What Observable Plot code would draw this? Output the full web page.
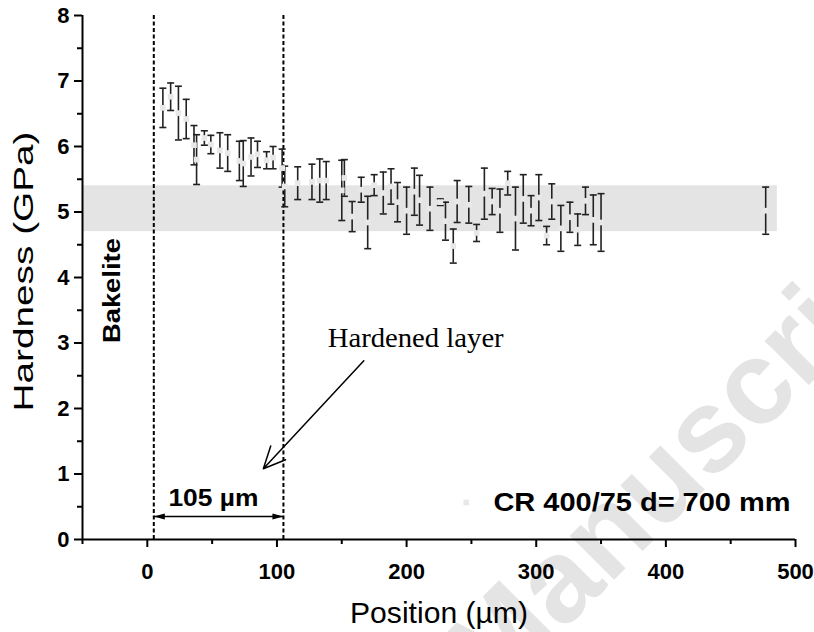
<!DOCTYPE html>
<html>
<head>
<meta charset="utf-8">
<script src="https://cdn.jsdelivr.net/npm/d3@7"></script>
<script src="https://cdn.jsdelivr.net/npm/@observablehq/plot@0.6"></script>
<style>
  body { margin: 0; background: #fff; }
  #chart { width: 814px; height: 632px; }
</style>
</head>
<body>
<div id="chart"></div>
<script>
// ---- data ----
const position = [12, 18, 24, 30, 36, 38, 44, 49, 56, 62, 71, 74, 80, 85, 92, 97, 104, 106,
  116, 127, 133, 138, 150, 152, 158, 165, 170, 175, 182, 188, 193, 200, 206, 210, 218, 226,
  230, 236, 239, 248, 254, 260, 266, 272, 278, 284, 290, 296, 302, 308, 312, 319, 326, 332,
  338, 344, 350, 477];
const hardness = [6.59, 6.76, 6.51, 6.42, 6.02, 5.80, 6.13, 6.03, 5.94, 5.90, 5.78, 5.74, 5.84, 5.88,
  5.79, 5.83, 5.67, 5.39, 5.44, 5.46, 5.48, 5.48, 5.33, 5.52, 4.93, 5.34, 4.84, 5.41, 5.29,
  5.39, 5.15, 5.02, 5.31, 5.18, 5.05, 5.15, 4.86, 4.48, 5.16, 5.11, 4.68, 5.28, 5.16, 5.02,
  5.44, 4.90, 5.20, 5.02, 5.22, 4.64, 5.16, 4.75, 4.92, 4.73, 5.17, 4.88, 4.84, 5.02];
const hardnessError = [0.30, 0.21, 0.41, 0.30, 0.30, 0.38, 0.11, 0.14, 0.27, 0.28, 0.30, 0.35, 0.29,
  0.20, 0.13, 0.17, 0.29, 0.31, 0.25, 0.27, 0.33, 0.29, 0.46, 0.28, 0.23, 0.19, 0.40, 0.16,
  0.32, 0.27, 0.30, 0.36, 0.36, 0.38, 0.33, 0.05, 0.29, 0.26, 0.32, 0.28, 0.13, 0.39, 0.20,
  0.33, 0.18, 0.48, 0.37, 0.23, 0.35, 0.14, 0.27, 0.35, 0.23, 0.24, 0.21, 0.38, 0.44, 0.36];

const xMajorTicks = [0, 100, 200, 300, 400, 500];
const xMinorTicks = [-50, 50, 150, 250, 350, 450];
const yMajorTicks = [0, 1, 2, 3, 4, 5, 6, 7, 8];
const yMinorTicks = [0.5, 1.5, 2.5, 3.5, 4.5, 5.5, 6.5, 7.5];

const bakeliteBand = [{x1: -50, x2: 486, y1: 4.7, y2: 5.4}];
const layerBounds = [5, 105];
const layerWidth = [{x1: 5, x2: 105, y: 0.35}];
const hardenedArrow = [{x1: 167, y1: 2.73, x2: 89.5, y2: 1.08}];

const bakeliteLabel = [{x: -27, y: 3.8, text: "Bakelite"}];
const hardenedLabel = [{x: 207, y: 3.07, text: "Hardened layer"}];
const widthLabel = [{x: 51, y: 0.63, text: "105 µm"}];
const sampleLabel = [{x: 267, y: 0.565, text: "CR 400/75 d= 700 mm"}];
const legendSwatch = [{x: 246, y: 0.565}];

// ---- drawing ----
const rows = position.map((p, i) => ({x: p, y: hardness[i], lo: hardness[i] - hardnessError[i], hi: hardness[i] + hardnessError[i]}));

const cap = {draw(ctx) { ctx.moveTo(-3.5, 0); ctx.lineTo(3.5, 0); }};
const headLeft = {draw(ctx) { ctx.moveTo(0, 0); ctx.lineTo(11, -3); ctx.lineTo(11, 3); ctx.closePath(); }};
const headRight = {draw(ctx) { ctx.moveTo(0, 0); ctx.lineTo(-11, -3); ctx.lineTo(-11, 3); ctx.closePath(); }};

const sans = "'Liberation Sans', Arial, Helvetica, sans-serif";
const serif = "'Liberation Serif', 'Times New Roman', serif";

const chart = Plot.plot({
  width: 814,
  height: 632,
  marginLeft: 82,
  marginRight: 19,
  marginTop: 15,
  marginBottom: 93,
  x: {domain: [-50, 500]},
  y: {domain: [0, 8]},
  style: {fontFamily: sans, background: "#fff", color: "#000"},
  marks: [
    Plot.rect(bakeliteBand, {x1: "x1", x2: "x2", y1: "y1", y2: "y2", fill: "#e4e4e4"}),
    Plot.ruleX(layerBounds, {y1: 0, y2: 8, stroke: "#000", strokeWidth: 2, strokeDasharray: "4,2.5"}),
    Plot.ruleX(rows, {x: "x", y1: "lo", y2: "hi", stroke: "#222", strokeWidth: 1.6}),
    Plot.dot(rows, {x: "x", y: "lo", symbol: cap, stroke: "#222", strokeWidth: 1.6, fill: "none"}),
    Plot.dot(rows, {x: "x", y: "hi", symbol: cap, stroke: "#222", strokeWidth: 1.6, fill: "none"}),
    Plot.dot(rows, {x: "x", y: "y", symbol: "square", r: 3.2, fill: "#e8e8e8", stroke: "none"}),
    Plot.dot(legendSwatch, {x: "x", y: "y", symbol: "square", r: 3.2, fill: "#e8e8e8", stroke: "none"}),
    // axes
    Plot.axisX(xMajorTicks, {tickSize: 8, tickPadding: 16, fontSize: 22, fontWeight: "bold", label: null, strokeWidth: 2, tickFormat: d => String(d)}),
    Plot.axisX(xMinorTicks, {tickSize: 5, label: null, strokeWidth: 2, tickFormat: () => ""}),
    Plot.axisY(yMajorTicks, {tickSize: 8, tickPadding: 5, fontSize: 22, fontWeight: "bold", label: null, strokeWidth: 2, tickFormat: d => String(d)}),
    Plot.axisY(yMinorTicks, {tickSize: 5, label: null, strokeWidth: 2, tickFormat: () => ""}),
    Plot.ruleX([-50], {y1: 0, y2: 8, stroke: "#000", strokeWidth: 2}),
    Plot.ruleY([0], {x1: -50, x2: 500, stroke: "#000", strokeWidth: 2}),
    Plot.text(["Hardness (GPa)"], {frameAnchor: "left", dx: -58, dy: -6, rotate: -90, textAnchor: "middle", lineAnchor: "middle", fontSize: 28, fill: "#000"}),
    Plot.text(["Position (µm)"], {frameAnchor: "bottom", dy: 74, lineAnchor: "middle", fontSize: 29, fill: "#000"}),
    // annotations
    Plot.arrow(hardenedArrow, {x1: "x1", y1: "y1", x2: "x2", y2: "y2", stroke: "#000", strokeWidth: 1.5, headLength: 24, headAngle: 50}),
    Plot.link(layerWidth, {x1: "x1", x2: "x2", y1: "y", y2: "y", stroke: "#000", strokeWidth: 1.5}),
    Plot.dot(layerWidth, {x: "x1", y: "y", symbol: headLeft, fill: "#000", stroke: "none"}),
    Plot.dot(layerWidth, {x: "x2", y: "y", symbol: headRight, fill: "#000", stroke: "none"}),
    Plot.text(bakeliteLabel, {x: "x", y: "y", text: "text", rotate: -90, fontSize: 24, fontWeight: "bold", fill: "#000"}),
    Plot.text(hardenedLabel, {x: "x", y: "y", text: "text", fontSize: 27, fontFamily: serif, fill: "#000"}),
    Plot.text(widthLabel, {x: "x", y: "y", text: "text", fontSize: 23, fontWeight: "bold", fill: "#000"}),
    Plot.text(sampleLabel, {x: "x", y: "y", text: "text", textAnchor: "start", fontSize: 26, fontWeight: "bold", fill: "#000"})
  ]
});

// stretch titles to the lengths they occupy in the reference
const textLengths = {"Hardness (GPa)": 280, "Position (µm)": 178, "Bakelite": 105, "Hardened layer": 176, "105 µm": 90, "CR 400/75 d= 700 mm": 297};
d3.select(chart).selectAll("text").each(function () {
  const len = textLengths[this.textContent];
  if (len) d3.select(this).attr("textLength", len).attr("lengthAdjust", "spacingAndGlyphs");
});

// faint watermark behind the chart
d3.select(chart).insert("text", ":first-child")
  .attr("transform", "translate(686,450) rotate(-45)")
  .attr("text-anchor", "middle")
  .attr("dominant-baseline", "central")
  .attr("font-family", sans)
  .attr("font-weight", "bold")
  .attr("font-size", 118)
  .attr("fill", "#e4e4e4")
  .text("Manuscript");

document.getElementById("chart").appendChild(chart);
</script>
</body>
</html>
